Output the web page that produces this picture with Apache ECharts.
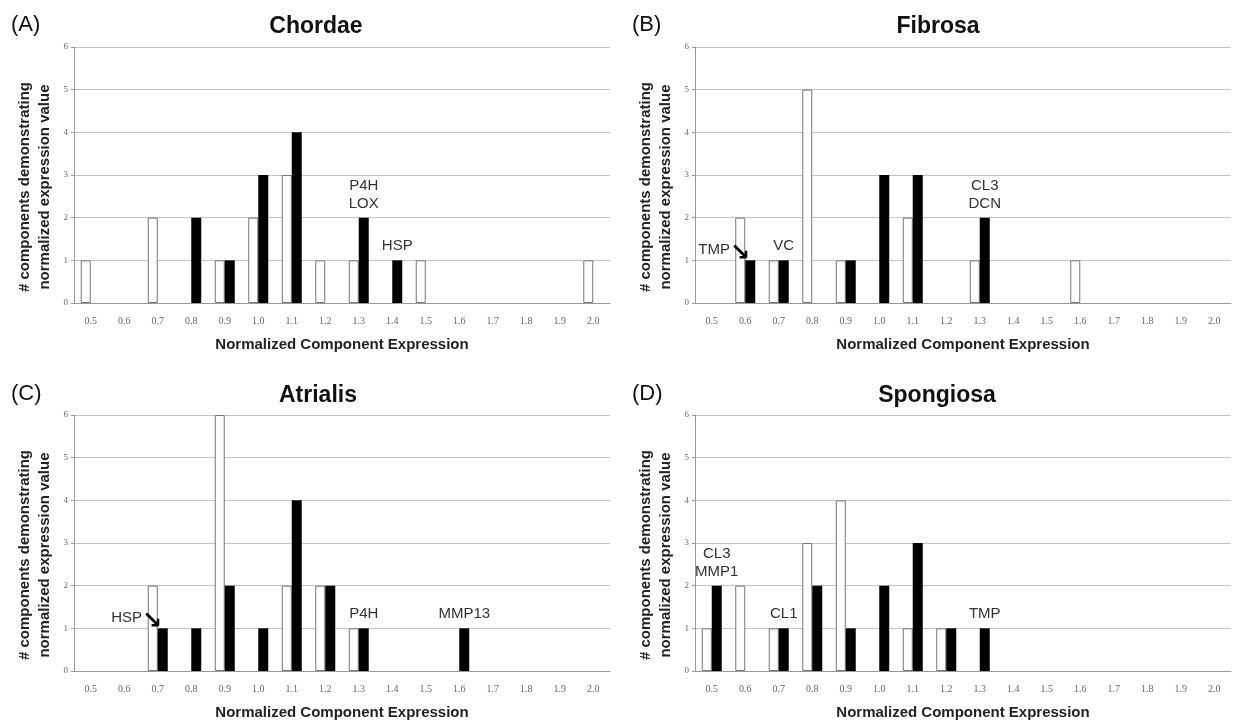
<!DOCTYPE html>
<html>
<head>
<meta charset="utf-8">
<script src="https://cdn.jsdelivr.net/npm/echarts@6/dist/echarts.min.js"></script>
<style>
  html, body { margin: 0; padding: 0; background: #fff; }
  #main { width: 1241px; height: 721px; }
</style>
</head>
<body>
<div id="main"></div>
<script>
// categories on the x axis
var categories = ['0.5', '0.6', '0.7', '0.8', '0.9', '1.0', '1.1', '1.2', '1.3', '1.4', '1.5', '1.6', '1.7', '1.8', '1.9', '2.0'];
var yTicks = [0, 1, 2, 3, 4, 5, 6];

// white (open) and black bars for each tissue layer
var chordaeWhite   = [1, 0, 2, 0, 1, 2, 3, 1, 1, 0, 1, 0, 0, 0, 0, 1];
var chordaeBlack   = [0, 0, 0, 2, 1, 3, 4, 0, 2, 1, 0, 0, 0, 0, 0, 0];
var fibrosaWhite   = [0, 2, 1, 5, 1, 0, 2, 0, 1, 0, 0, 1, 0, 0, 0, 0];
var fibrosaBlack   = [0, 1, 1, 0, 1, 3, 3, 0, 2, 0, 0, 0, 0, 0, 0, 0];
var atrialisWhite  = [0, 0, 2, 0, 6, 0, 2, 2, 1, 0, 0, 0, 0, 0, 0, 0];
var atrialisBlack  = [0, 0, 1, 1, 2, 1, 4, 2, 1, 0, 0, 1, 0, 0, 0, 0];
var spongiosaWhite = [1, 2, 1, 3, 4, 0, 1, 1, 0, 0, 0, 0, 0, 0, 0, 0];
var spongiosaBlack = [2, 0, 1, 2, 1, 2, 3, 1, 1, 0, 0, 0, 0, 0, 0, 0];

// gene labels written above the black bars (arrow ones point from the left)
var chordaeNotes   = { '1.3': 'P4H\nLOX', '1.4': 'HSP' };
var fibrosaNotes   = { '0.6': 'TMP', '0.7': 'VC', '1.3': 'CL3\nDCN' };
var atrialisNotes  = { '0.7': 'HSP', '1.3': 'P4H', '1.6': 'MMP13' };
var spongiosaNotes = { '0.5': 'CL3\nMMP1', '0.7': 'CL1', '1.3': 'TMP' };
var arrowNotes = { 1: '0.6', 2: '0.7' }; // panel index -> category with arrow label

var panels = [
  { name: 'Chordae',   letter: '(A)', white: chordaeWhite,   black: chordaeBlack,   notes: chordaeNotes,   left: 74,  top: 47,  titleX: 311, titleY: 10 },
  { name: 'Fibrosa',   letter: '(B)', white: fibrosaWhite,   black: fibrosaBlack,   notes: fibrosaNotes,   left: 695, top: 47,  titleX: 933, titleY: 10 },
  { name: 'Atrialis',  letter: '(C)', white: atrialisWhite,  black: atrialisBlack,  notes: atrialisNotes,  left: 74,  top: 415, titleX: 313, titleY: 379 },
  { name: 'Spongiosa', letter: '(D)', white: spongiosaWhite, black: spongiosaBlack, notes: spongiosaNotes, left: 695, top: 415, titleX: 932, titleY: 379 }
];

// empty bins draw nothing
function noZero(v) { return v === 0 ? '-' : v; }

var myChart = echarts.init(document.getElementById('main'));

var grids = [], xAxes = [], yAxes = [], series = [], titles = [];

panels.forEach(function (p, i) {
  grids.push({ left: p.left, top: p.top, width: 536, height: 256 });

  titles.push({
    text: p.name, left: p.titleX, top: p.titleY, textAlign: 'center',
    textStyle: { fontFamily: 'Liberation Sans', fontSize: 23, fontWeight: 'bold', color: '#111' }
  });
  titles.push({
    text: p.letter, left: p.left - 68, top: p.titleY - 1,
    textStyle: { fontFamily: 'Liberation Sans', fontSize: 22, fontWeight: 'normal', color: '#111' }
  });

  xAxes.push({
    gridIndex: i, type: 'category', data: categories,
    name: 'Normalized Component Expression', nameLocation: 'middle', nameGap: 34,
    nameTextStyle: { fontFamily: 'Liberation Sans', fontSize: 15, fontWeight: 'bold', color: '#222' },
    axisLine: { lineStyle: { color: '#999' } },
    axisTick: { length: 4, lineStyle: { color: '#999' } },
    axisLabel: { interval: 0, fontFamily: 'Liberation Serif', fontSize: 10, color: '#666', margin: 13 }
  });
  yAxes.push({
    gridIndex: i, type: 'value', min: yTicks[0], max: yTicks[yTicks.length - 1], interval: 1,
    name: '# components demonstrating\nnormalized expression value', nameLocation: 'middle', nameGap: 19,
    nameTextStyle: { fontFamily: 'Liberation Sans', fontSize: 15, fontWeight: 'bold', color: '#222', lineHeight: 20, padding: [0, 24, 0, 0] },
    axisLine: { show: true, lineStyle: { color: '#999' } },
    axisTick: { show: true, length: 3, lineStyle: { color: '#999' } },
    axisLabel: { fontFamily: 'Liberation Serif', fontSize: 9, color: '#666', margin: 6 },
    splitLine: { lineStyle: { color: '#c4c4c4' } }
  });

  series.push({
    type: 'bar', xAxisIndex: i, yAxisIndex: i, data: p.white.map(noZero),
    barWidth: 10, barGap: '0%',
    itemStyle: { color: '#fff', borderColor: '#777', borderWidth: 1 }
  });

  var blackData = p.black.map(function (v, k) {
    var note = p.notes[categories[k]];
    if (!note) return noZero(v);
    var isArrow = arrowNotes[i] === categories[k];
    return {
      value: v,
      label: {
        show: true, position: 'top', distance: isArrow ? 1 : 5,
        offset: isArrow ? [-26, 0] : [0, 0],
        formatter: isArrow ? note + '{arr|\u2198}' : note,
        fontFamily: 'Liberation Sans', fontSize: 15, color: '#333', lineHeight: 18,
        rich: { arr: { fontFamily: 'DejaVu Sans', fontSize: 24, fontWeight: 'bold', color: '#000', padding: [6, 0, 0, 0] } }
      }
    };
  });
  series.push({
    type: 'bar', xAxisIndex: i, yAxisIndex: i, data: blackData,
    barWidth: 10, barGap: '0%',
    itemStyle: { color: '#000' }
  });
});

myChart.setOption({
  animation: false,
  title: titles,
  grid: grids,
  xAxis: xAxes,
  yAxis: yAxes,
  series: series
});
</script>
</body>
</html>
